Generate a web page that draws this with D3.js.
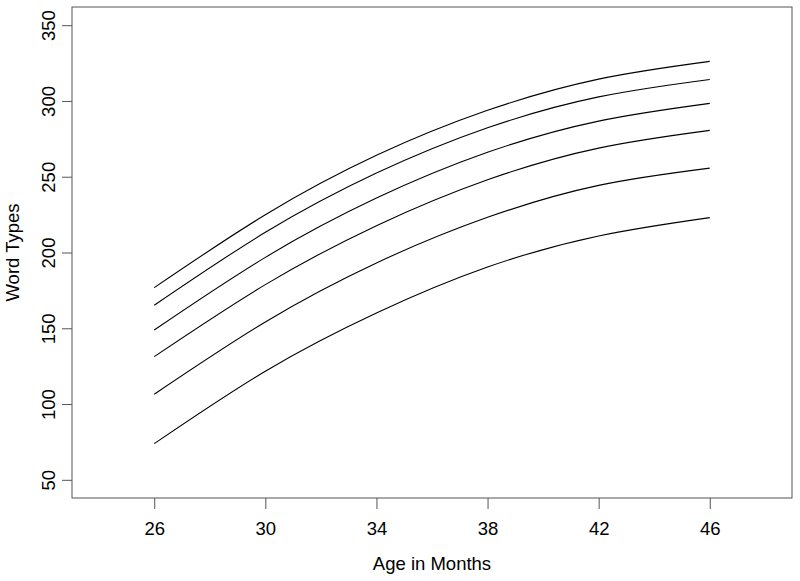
<!DOCTYPE html>
<html>
<head>
<meta charset="utf-8">
<script src="https://cdn.jsdelivr.net/npm/d3@7"></script>
<style>
  body { margin: 0; background: #fff; }
  text { font-family: "Liberation Sans", Arial, sans-serif; fill: #000; }
</style>
</head>
<body>
<svg id="chart"></svg>
<script>
// ages at which the curves were read
var ages = [26, 30, 34, 38, 42, 46];

// word types, one array per curve (top to bottom)
var curve1 = [176.8, 224.9, 264.1, 293.8, 314.4, 326.1];
var curve2 = [165.2, 213.3, 252.4, 282.3, 302.7, 314.2];
var curve3 = [148.9, 196.8, 235.9, 266.1, 286.7, 298.4];
var curve4 = [131.3, 178.8, 217.7, 248.0, 268.9, 280.6];
var curve5 = [106.5, 154.2, 193.1, 223.2, 244.3, 255.7];
var curve6 = [73.9, 121.7, 160.1, 190.4, 210.9, 223.0];

var xTicks = [26, 30, 34, 38, 42, 46];
var yTicks = [50, 100, 150, 200, 250, 300, 350];

var width = 800, height = 581;
var plot = {left: 72, top: 7, right: 792, bottom: 498};
var fontSize = "18.5px";

var svg = d3.select("#chart")
    .attr("width", width)
    .attr("height", height);

// R style 4% padding around xlim c(24,48) and ylim c(50,350)
var x = d3.scaleLinear().domain([23.04, 48.96]).range([plot.left, plot.right]);
var y = d3.scaleLinear().domain([38, 362]).range([plot.bottom, plot.top]);

// curves
var line = d3.line()
    .x(function (d) { return x(d[0]); })
    .y(function (d) { return y(d[1]); })
    .curve(d3.curveNatural);

[curve1, curve2, curve3, curve4, curve5, curve6].forEach(function (vals) {
    svg.append("path")
        .datum(ages.map(function (a, i) { return [a, vals[i]]; }))
        .attr("d", line)
        .attr("fill", "none")
        .attr("stroke", "#000")
        .attr("stroke-width", 1.1);
});

// box
svg.append("rect")
    .attr("x", plot.left)
    .attr("y", plot.top)
    .attr("width", plot.right - plot.left)
    .attr("height", plot.bottom - plot.top)
    .attr("fill", "none")
    .attr("stroke", "#555")
    .attr("stroke-width", 1);

// x axis
var xAxis = d3.axisBottom(x).tickValues(xTicks).tickSize(11).tickPadding(13);
var gx = svg.append("g")
    .attr("transform", "translate(0," + plot.bottom + ")")
    .call(xAxis);
gx.select(".domain").remove();
gx.selectAll(".tick line").attr("stroke", "#555");
gx.selectAll(".tick text")
    .style("font-size", fontSize)
    .attr("font-family", null);

// y axis, labels rotated like R's default las = 0
var yAxis = d3.axisLeft(y).tickValues(yTicks).tickSize(10).tickPadding(0);
var gy = svg.append("g")
    .attr("transform", "translate(" + plot.left + ",0)")
    .call(yAxis);
gy.select(".domain").remove();
gy.selectAll(".tick line").attr("stroke", "#555");
gy.selectAll(".tick text")
    .attr("x", null)
    .attr("dy", null)
    .attr("transform", "translate(-17,0) rotate(-90)")
    .attr("text-anchor", "middle")
    .style("font-size", fontSize)
    .attr("font-family", null);

// axis titles
svg.append("text")
    .attr("x", (plot.left + plot.right) / 2)
    .attr("y", 570)
    .attr("text-anchor", "middle")
    .style("font-size", fontSize)
    .text("Age in Months");

svg.append("text")
    .attr("transform", "translate(19," + (plot.top + plot.bottom) / 2 + ") rotate(-90)")
    .attr("text-anchor", "middle")
    .style("font-size", fontSize)
    .text("Word Types");
</script>
</body>
</html>
